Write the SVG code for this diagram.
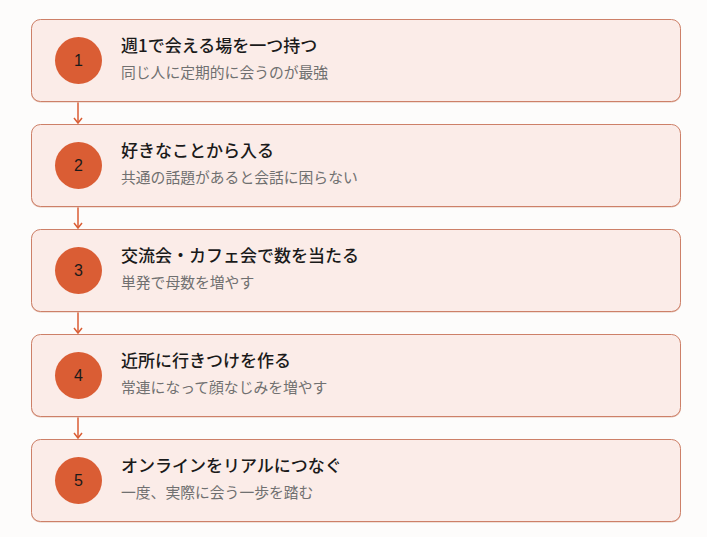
<svg xmlns="http://www.w3.org/2000/svg" width="707" height="537" viewBox="0 0 707 537">
<defs>
<style>
.shadow{fill:#E6C3B6;}
.card{fill:#FBECE8;stroke:#CD8068;stroke-width:1;}
.badge{fill:#DA5D34;}
.num{font-family:"Liberation Sans","Noto Sans",sans-serif;font-size:16px;fill:#1a1a1a;text-anchor:middle;}
.title{font-family:"Noto Sans CJK JP","Noto Sans",sans-serif;font-size:17px;font-weight:500;fill:#1a1a1a;}
.sub{font-family:"Noto Sans CJK JP","Noto Sans",sans-serif;font-size:14.8px;fill:#707070;}
.conn{stroke:#DA5D34;stroke-width:1.5;fill:none;}
</style>
<marker id="arr" markerWidth="10" markerHeight="10" refX="6" refY="5" orient="auto" markerUnits="userSpaceOnUse" viewBox="0 0 10 10">
<path d="M1,1 L6,5 L1,9" fill="none" stroke="#DA5D34" stroke-width="1.5"/>
</marker>
</defs>
<rect width="707" height="537" fill="#FDFCFB"/>
<g id="connectors">
<line class="conn" x1="78" y1="102" x2="78" y2="123" marker-end="url(#arr)"/>
<line class="conn" x1="78" y1="207" x2="78" y2="228" marker-end="url(#arr)"/>
<line class="conn" x1="78" y1="312" x2="78" y2="333" marker-end="url(#arr)"/>
<line class="conn" x1="78" y1="417" x2="78" y2="438" marker-end="url(#arr)"/>
</g>
<g id="step1">
<rect class="shadow" x="31" y="20.5" width="650" height="82" rx="9"/>
<rect class="card" x="31.5" y="19.5" width="649" height="82" rx="9"/>
<circle class="badge" cx="78.5" cy="60.5" r="23.5"/>
<text class="num" x="78.5" y="66">1</text>
<text class="title" x="121" y="52">週1で会える場を一つ持つ</text>
<text class="sub" x="121" y="78">同じ人に定期的に会うのが最強</text>
</g>
<g id="step2">
<rect class="shadow" x="31" y="125.5" width="650" height="82" rx="9"/>
<rect class="card" x="31.5" y="124.5" width="649" height="82" rx="9"/>
<circle class="badge" cx="78.5" cy="165.5" r="23.5"/>
<text class="num" x="78.5" y="171">2</text>
<text class="title" x="121" y="157">好きなことから入る</text>
<text class="sub" x="121" y="183">共通の話題があると会話に困らない</text>
</g>
<g id="step3">
<rect class="shadow" x="31" y="230.5" width="650" height="82" rx="9"/>
<rect class="card" x="31.5" y="229.5" width="649" height="82" rx="9"/>
<circle class="badge" cx="78.5" cy="270.5" r="23.5"/>
<text class="num" x="78.5" y="276">3</text>
<text class="title" x="121" y="262">交流会・カフェ会で数を当たる</text>
<text class="sub" x="121" y="288">単発で母数を増やす</text>
</g>
<g id="step4">
<rect class="shadow" x="31" y="335.5" width="650" height="82" rx="9"/>
<rect class="card" x="31.5" y="334.5" width="649" height="82" rx="9"/>
<circle class="badge" cx="78.5" cy="375.5" r="23.5"/>
<text class="num" x="78.5" y="381">4</text>
<text class="title" x="121" y="367">近所に行きつけを作る</text>
<text class="sub" x="121" y="393">常連になって顔なじみを増やす</text>
</g>
<g id="step5">
<rect class="shadow" x="31" y="440.5" width="650" height="82" rx="9"/>
<rect class="card" x="31.5" y="439.5" width="649" height="82" rx="9"/>
<circle class="badge" cx="78.5" cy="480.5" r="23.5"/>
<text class="num" x="78.5" y="486">5</text>
<text class="title" x="121" y="472">オンラインをリアルにつなぐ</text>
<text class="sub" x="121" y="498">一度、実際に会う一歩を踏む</text>
</g>
</svg>
